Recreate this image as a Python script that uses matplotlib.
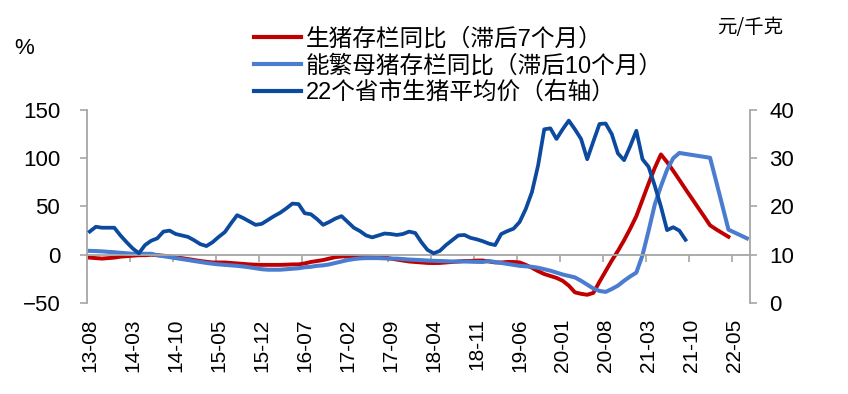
import matplotlib
matplotlib.use("Agg")
import matplotlib.pyplot as plt
import numpy as np
import pandas as pd

plt.rcParams['font.family'] = ['Liberation Sans', 'Noto Sans CJK SC']

# monthly categories 2013-08 .. 2022-07
months = pd.period_range("2013-08", periods=108, freq="M")
month_labels = [p.strftime("%y-%m") for p in months]

# 22个省市生猪平均价 (元/千克, right axis), 2013-08 .. 2021-09
price = [14.8, 15.8, 15.6, 15.6, 15.6, 14.0, 12.6, 11.3, 10.3, 12.0,
         12.9, 13.4, 14.8, 15.0, 14.3, 14.0, 13.7, 13.0, 12.2, 11.8,
         12.6, 13.7, 14.7, 16.5, 18.2, 17.6, 16.9, 16.2, 16.4, 17.2,
         18.0, 18.7, 19.6, 20.6, 20.5, 18.6, 18.4, 17.4, 16.2, 16.8,
         17.5, 18.0, 16.8, 15.6, 14.9, 14.0, 13.6, 14.0, 14.4, 14.3,
         14.1, 14.3, 14.8, 14.5, 12.6, 11.0, 10.3, 10.8, 12.0, 13.0,
         14.0, 14.1, 13.5, 13.2, 12.8, 12.3, 12.0, 14.3, 14.9, 15.4,
         16.8, 19.5, 23.0, 28.5, 36.0, 36.2, 34.0, 36.0, 37.8, 36.0,
         34.0, 29.8, 33.5, 37.1, 37.2, 35.0, 31.0, 29.6, 32.5, 35.7,
         29.8, 28.2, 24.3, 20.0, 15.1, 15.7, 15.0, 13.1]

# 生猪存栏同比 (滞后7个月), %
hog_yoy = [-3.0, -3.5, -4.0, -3.5, -3.0, -2.0, -1.5, -1.0, -0.5, -0.5,
           0.0, -0.5, -1.0, -1.5, -3.0, -3.5, -4.5, -5.5, -6.5, -7.3,
           -8.0, -8.0, -8.0, -8.5, -9.0, -9.5, -10.0, -10.3, -10.5, -10.5,
           -10.5, -10.5, -10.3, -10.0, -10.0, -9.0, -7.5, -6.5, -5.5, -4.0,
           -2.5, -1.8, -1.5, -1.5, -2.0, -2.0, -2.5, -3.0, -3.0, -4.0,
           -5.0, -6.0, -7.0, -7.5, -8.0, -8.5, -8.6, -8.5, -8.0, -7.5,
           -7.0, -6.5, -6.5, -6.0, -6.0, -7.0, -8.0, -8.0, -7.5, -7.5,
           -8.0, -10.5, -13.5, -17.0, -20.0, -22.0, -24.0, -27.0, -32.0, -39.0,
           -40.5, -41.5, -39.5, -28.0, -17.0, -6.0, 4.0, 15.0, 27.0, 40.0,
           57.0, 74.0, 90.0, 104.0, 96.0, 87.0, 77.6, 68.0, 58.7, 49.3,
           40.0, 30.5, 26.3, 22.4, 18.6]

# 能繁母猪存栏同比 (滞后10个月), %
sow_yoy = [4.0, 3.8, 3.5, 3.0, 2.6, 2.0, 1.5, 1.0, 1.0, 1.0,
           1.0, -0.5, -1.5, -2.5, -3.5, -4.5, -5.5, -6.5, -7.5, -8.5,
           -9.3, -10.0, -10.5, -11.0, -11.5, -12.2, -13.0, -14.0, -15.0, -15.5,
           -15.5, -15.5, -15.0, -14.5, -14.0, -13.0, -12.5, -11.5, -11.0, -10.0,
           -8.5, -7.0, -5.5, -4.5, -3.8, -3.5, -3.5, -3.5, -3.8, -4.0,
           -4.0, -4.5, -5.0, -5.3, -5.6, -6.0, -6.3, -6.5, -6.7, -7.0,
           -7.0, -7.0, -7.2, -7.4, -7.5, -6.5, -7.5, -8.5, -9.5, -10.5,
           -11.5, -12.0, -12.5, -13.5, -15.0, -16.5, -18.5, -20.5, -22.0, -23.5,
           -27.0, -31.0, -35.0, -37.5, -38.5, -35.5, -32.0, -27.0, -22.5, -18.5,
           -0.5, 25.0, 52.0, 71.0, 88.0, 100.0, 105.5, 104.5, 103.5, 102.5,
           101.5, 100.5, 76.0, 51.0, 26.0, 23.0, 20.0, 17.0]

RED = "#C00000"
LIGHT = "#4A7CCF"
DARK = "#0B4A9E"
GREY = "#A6A6A6"

fig = plt.figure(figsize=(8.48, 3.94), dpi=100)
ax = fig.add_axes([0.1022, 0.2310, 0.7822, 0.4898])
ax.set_facecolor("none")

x_hog = np.arange(len(hog_yoy))
x_sow = np.arange(len(sow_yoy))
x_price = np.arange(len(price))

l1, = ax.plot(x_hog, hog_yoy, color=RED, lw=2.8, solid_joinstyle="round")
l2, = ax.plot(x_sow, sow_yoy, color=LIGHT, lw=2.9, solid_joinstyle="round")

ax.set_xlim(-0.5, len(months) - 0.5)
ax.set_ylim(-50, 150)
ax.set_yticks([-50, 0, 50, 100, 150])
ax.tick_params(axis="y", direction="out", length=5, width=1.2, color=GREY,
               labelsize=16, pad=14)

# zero line with tick marks between label groups
ax.spines["bottom"].set_position(("data", 0))
ax.spines["bottom"].set_color(GREY)
ax.spines["bottom"].set_linewidth(1.3)
step = 7
ax.set_xticks(np.arange(step, len(months), step) - 0.5)
ax.set_xticklabels([])
ax.tick_params(axis="x", direction="out", length=5, width=1.2, color=GREY)
for s in ["top", "right"]:
    ax.spines[s].set_visible(False)
ax.spines["left"].set_color(GREY)
ax.spines["left"].set_linewidth(1.3)

# category labels at the bottom
sec = ax.secondary_xaxis("bottom")
sec.spines["bottom"].set_visible(False)
lab_pos = np.arange(0, len(months), step)
sec.set_xticks(lab_pos)
sec.set_xticklabels([month_labels[i] for i in lab_pos], rotation=90,
                    fontsize=15)
sec.tick_params(axis="x", length=0, pad=11)

# price on right axis
ax2 = ax.twinx()
l3, = ax2.plot(x_price, price, color=DARK, lw=2.7, solid_joinstyle="round")
ax2.set_ylim(0, 40)
ax2.set_yticks([0, 10, 20, 30, 40])
ax2.tick_params(axis="y", direction="out", length=5, width=1.2, color=GREY,
                labelsize=16, pad=9)
for s in ["top", "left", "bottom"]:
    ax2.spines[s].set_visible(False)
ax2.spines["right"].set_color(GREY)
ax2.spines["right"].set_linewidth(1.3)

fig.text(14 / 848, 1 - 49 / 394, "%", fontsize=16, ha="left", va="center")
fig.text(750 / 848, 1 - 28 / 394, "元/千克", fontsize=14, ha="center",
         va="center", family=["Noto Sans CJK SC", "DejaVu Sans"])

leg = fig.legend([l1, l2, l3],
                 ["生猪存栏同比（滞后7个月）", "能繁母猪存栏同比（滞后10个月）",
                  "22个省市生猪平均价（右轴）"],
                 loc="upper left", bbox_to_anchor=(254 / 848, 1 - 28 / 394),
                 frameon=False, fontsize=17, handlelength=2.0,
                 handletextpad=0.2, labelspacing=0.17, borderaxespad=0,
                 borderpad=0)
for h in leg.legend_handles:
    h.set_linewidth(3)

fig.savefig("out.png", dpi=100)
